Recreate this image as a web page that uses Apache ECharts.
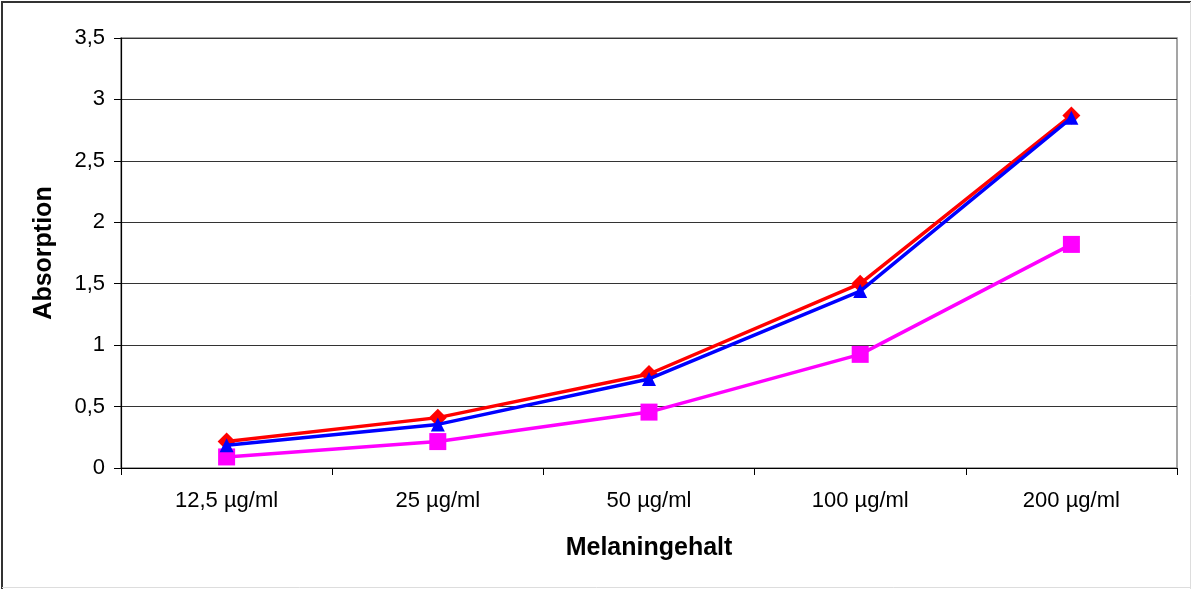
<!DOCTYPE html>
<html><head><meta charset="utf-8">
<script src="https://cdn.jsdelivr.net/npm/echarts@6/dist/echarts.min.js"></script>
<style>html,body{margin:0;padding:0;background:#fff}#c{width:1192px;height:589px}</style>
</head><body><div id="c"></div>
<script>
const categories = ['12,5 µg/ml', '25 µg/ml', '50 µg/ml', '100 µg/ml', '200 µg/ml'];
const redValues = [0.215, 0.41, 0.765, 1.50, 2.87];
const blueValues = [0.185, 0.355, 0.725, 1.44, 2.85];
const magentaValues = [0.09, 0.215, 0.455, 0.925, 1.82];
const yTicks = [0, 0.5, 1, 1.5, 2, 2.5, 3, 3.5];

const chart = echarts.init(document.getElementById('c'), null, {renderer: 'canvas'});
const fontFamily = '"Liberation Sans", Arial, sans-serif';
function fmt(v){ return String(v).replace('.', ','); }
chart.setOption({
  animation: false,
  backgroundColor: '#fff',
  grid: {left: 121, right: 15, top: 38, bottom: 121, show: true, borderColor: '#888', borderWidth: 1.5},
  xAxis: {
    type: 'category', data: categories, boundaryGap: true,
    name: 'Melaningehalt', nameLocation: 'middle', nameGap: 68,
    nameTextStyle: {fontFamily, fontSize: 25, fontWeight: 'bold', color: '#000'},
    axisLine: {lineStyle: {color: '#000', width: 1.2}},
    axisTick: {show: true, length: 7, inside: false, lineStyle: {color: '#000'}},
    axisLabel: {fontFamily, fontSize: 22, color: '#000', margin: 22}
  },
  yAxis: {
    type: 'value', min: 0, max: 3.5, interval: 0.5,
    name: 'Absorption', nameLocation: 'middle', nameGap: 64, nameRotate: 90,
    nameTextStyle: {fontFamily, fontSize: 25, fontWeight: 'bold', color: '#000'},
    axisLine: {show: true, lineStyle: {color: '#000', width: 1.2}},
    axisTick: {show: true, length: 7, lineStyle: {color: '#000'}},
    axisLabel: {fontFamily, fontSize: 22, color: '#000', margin: 16,
      formatter: v => yTicks.includes(v) ? fmt(v) : ''},
    splitLine: {show: true, lineStyle: {color: '#333', width: 1.2}}
  },
  series: [
    {name: 'Serie 1', type: 'line', data: redValues, symbol: 'diamond', symbolSize: 18,
     lineStyle: {color: '#ff0000', width: 3.5}, itemStyle: {color: '#ff0000'}, z: 3},
    {name: 'Serie 2', type: 'line', data: blueValues, symbol: 'triangle', symbolSize: 14,
     lineStyle: {color: '#0000ff', width: 3.5}, itemStyle: {color: '#0000ff'}, z: 4},
    {name: 'Serie 3', type: 'line', data: magentaValues, symbol: 'rect', symbolSize: 17,
     lineStyle: {color: '#ff00ff', width: 3.5}, itemStyle: {color: '#ff00ff'}, z: 2}
  ],
  graphic: [
    {type: 'line', shape: {x1: 1, y1: 2, x2: 1191, y2: 2}, style: {stroke: '#333', lineWidth: 2}},
    {type: 'line', shape: {x1: 2, y1: 1, x2: 2, y2: 589}, style: {stroke: '#333', lineWidth: 2}},
    {type: 'line', shape: {x1: 1190.5, y1: 2, x2: 1190.5, y2: 589}, style: {stroke: '#ddd', lineWidth: 1}},
    {type: 'line', shape: {x1: 2, y1: 587.5, x2: 1191, y2: 587.5}, style: {stroke: '#ddd', lineWidth: 1}}
  ]
});
</script></body></html>
